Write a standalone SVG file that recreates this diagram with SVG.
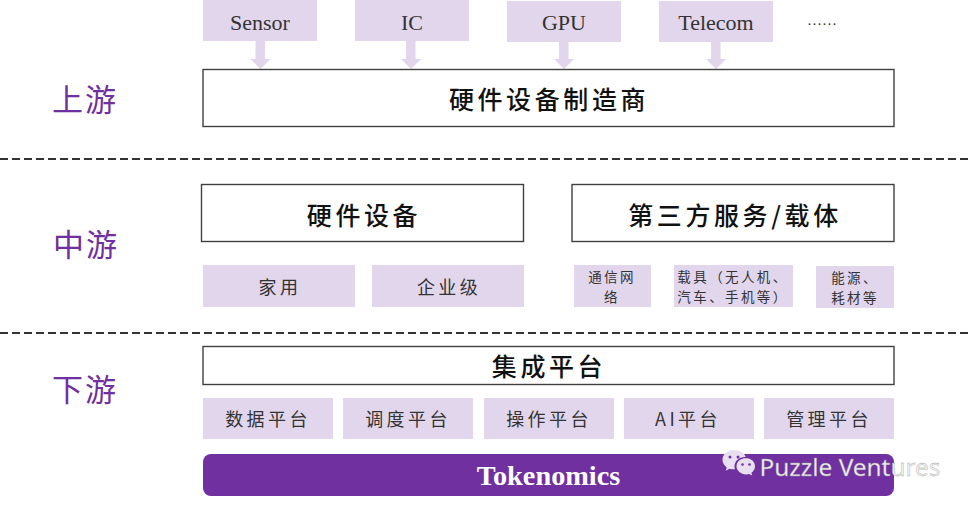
<svg xmlns="http://www.w3.org/2000/svg" width="972" height="509" viewBox="0 0 972 509">
<style>
.l{fill:#e1d6ec}
.b{fill:#fff;stroke:#404040;stroke-width:1.4}
.a{fill:#e1d6ec}
.d{stroke:#333;stroke-width:2;stroke-dasharray:8 4;fill:none}
text{text-anchor:middle;fill:#1a1a1a;font-family:"Noto Sans CJK SC","Noto Sans",sans-serif}
.e{font-family:"Liberation Serif",serif;font-size:22px;fill:#333}
.t{font-size:25px;font-weight:500;letter-spacing:3.6px;fill:#111}
.s{font-size:18px;letter-spacing:3.4px;fill:#333}
.x{font-size:13.5px;letter-spacing:2.4px;fill:#333}
.h{font-size:31px;fill:#7030a0;letter-spacing:2px}
</style>
<rect width="972" height="509" fill="#fff"/>
<g id="connectors">
<path class="a" d="M255.500 41h9.500v18h5.500l-10 10-10-10h5z"/>
<path class="a" d="M406 41h9.500v18h5.500l-10 10-10-10h5z"/>
<path class="a" d="M559 41h9.500v18h5.500l-10 10-10-10h5z"/>
<path class="a" d="M711 41h9.500v18h5.500l-10 10-10-10h5z"/>
<path class="d" d="M0 159H972"/>
<path class="d" d="M0 333H972"/>
</g>
<g id="label-up"><text class="h" x="85" y="111">上游</text></g>
<g id="label-mid"><text class="h" x="86" y="256">中游</text></g>
<g id="label-down"><text class="h" x="85" y="401">下游</text></g>
<g id="sensor"><rect class="l" x="203" y="0" width="114" height="41"/><text class="e" x="260" y="30">Sensor</text></g>
<g id="ic"><rect class="l" x="355" y="0" width="114" height="41"/><text class="e" x="412" y="30">IC</text></g>
<g id="gpu"><rect class="l" x="507" y="1" width="114" height="41"/><text class="e" x="564" y="30">GPU</text></g>
<g id="telecom"><rect class="l" x="659" y="1" width="114" height="41"/><text class="e" x="716" y="30">Telecom</text></g>
<g id="more"><text class="e" x="822" y="25" style="font-size:15px">……</text></g>
<g id="maker"><rect class="b" x="203" y="69.500" width="691" height="57"/><text class="t" x="549" y="109">硬件设备制造商</text></g>
<g id="hardware"><rect class="b" x="201.500" y="184.500" width="322" height="57"/><text class="t" x="364" y="225">硬件设备</text></g>
<g id="third"><rect class="b" x="572" y="184.500" width="322" height="57"/><text class="t" x="735" y="225">第三方服务/载体</text></g>
<g id="home"><rect class="l" x="203" y="265" width="152" height="42"/><text class="s" x="280" y="294">家用</text></g>
<g id="enterprise"><rect class="l" x="372" y="265" width="152" height="42"/><text class="s" x="449" y="294">企业级</text></g>
<g id="network"><rect class="l" x="574" y="265" width="77" height="42"/><text class="x" x="612" y="282">通信网</text><text class="x" x="612" y="302">络</text></g>
<g id="carrier"><rect class="l" x="674" y="265" width="119" height="42"/><text class="x" x="733" y="282">载具（无人机、</text><text class="x" x="733" y="302">汽车、手机等）</text></g>
<g id="energy"><rect class="l" x="816" y="266" width="78" height="42"/><text class="x" x="855" y="283">能源、</text><text class="x" x="855" y="303">耗材等</text></g>
<g id="integration"><rect class="b" x="203" y="346.500" width="691" height="38"/><text class="t" x="549" y="376">集成平台</text></g>
<g id="data"><rect class="l" x="203" y="398" width="130" height="41"/><text class="s" x="268" y="426">数据平台</text></g>
<g id="schedule"><rect class="l" x="343" y="398" width="130" height="41"/><text class="s" x="408" y="426">调度平台</text></g>
<g id="operate"><rect class="l" x="484" y="398" width="130" height="41"/><text class="s" x="549" y="426">操作平台</text></g>
<g id="ai"><rect class="l" x="624" y="398" width="130" height="41"/><text class="s" x="688" y="426">AI平台</text></g>
<g id="manage"><rect class="l" x="764" y="398" width="130" height="41"/><text class="s" x="829" y="426">管理平台</text></g>
<g id="tokenomics"><rect x="203" y="454" width="691" height="42" rx="8" fill="#7030a0"/><text x="548.500" y="485" style="font-family:'Liberation Serif',serif;font-size:28.300px;font-weight:700;fill:#fff">Tokenomics</text></g>
<g id="watermark">
<path d="M734 450c-6.500 0-11.500 4.300-11.500 9.800 0 3.100 1.700 5.800 4.300 7.600l-1.100 3.400 3.900-2.100c1.400.4 2.900.6 4.400.6h1c-.3-1-.5-1.900-.5-2.900 0-5.200 4.600-9.300 10.300-9.300h.8C744.700 453 739.800 450 734 450z" fill="#e8e0f0"/>
<path d="M746 458c-5 0-9.500 3.600-9.500 8.200s4.500 8.200 9.500 8.200c1.100 0 2.200-.2 3.200-.5l3.100 1.700-.9-2.800c2.100-1.500 3.600-3.800 3.600-6.600 0-4.600-4.500-8.200-9-8.200z" fill="#e8e0f0"/>
<circle cx="730" cy="457" r="1.500" fill="#7030a0"/><circle cx="738" cy="457" r="1.500" fill="#7030a0"/>
<circle cx="742.500" cy="464.500" r="1.300" fill="#7030a0"/><circle cx="749.500" cy="464.500" r="1.300" fill="#7030a0"/>
<text x="850" y="476" style="font-family:'Noto Sans',sans-serif;font-size:24.400px;fill:#eee;stroke:#999;stroke-width:.3;text-anchor:middle">Puzzle Ventures</text>
</g>
</svg>
